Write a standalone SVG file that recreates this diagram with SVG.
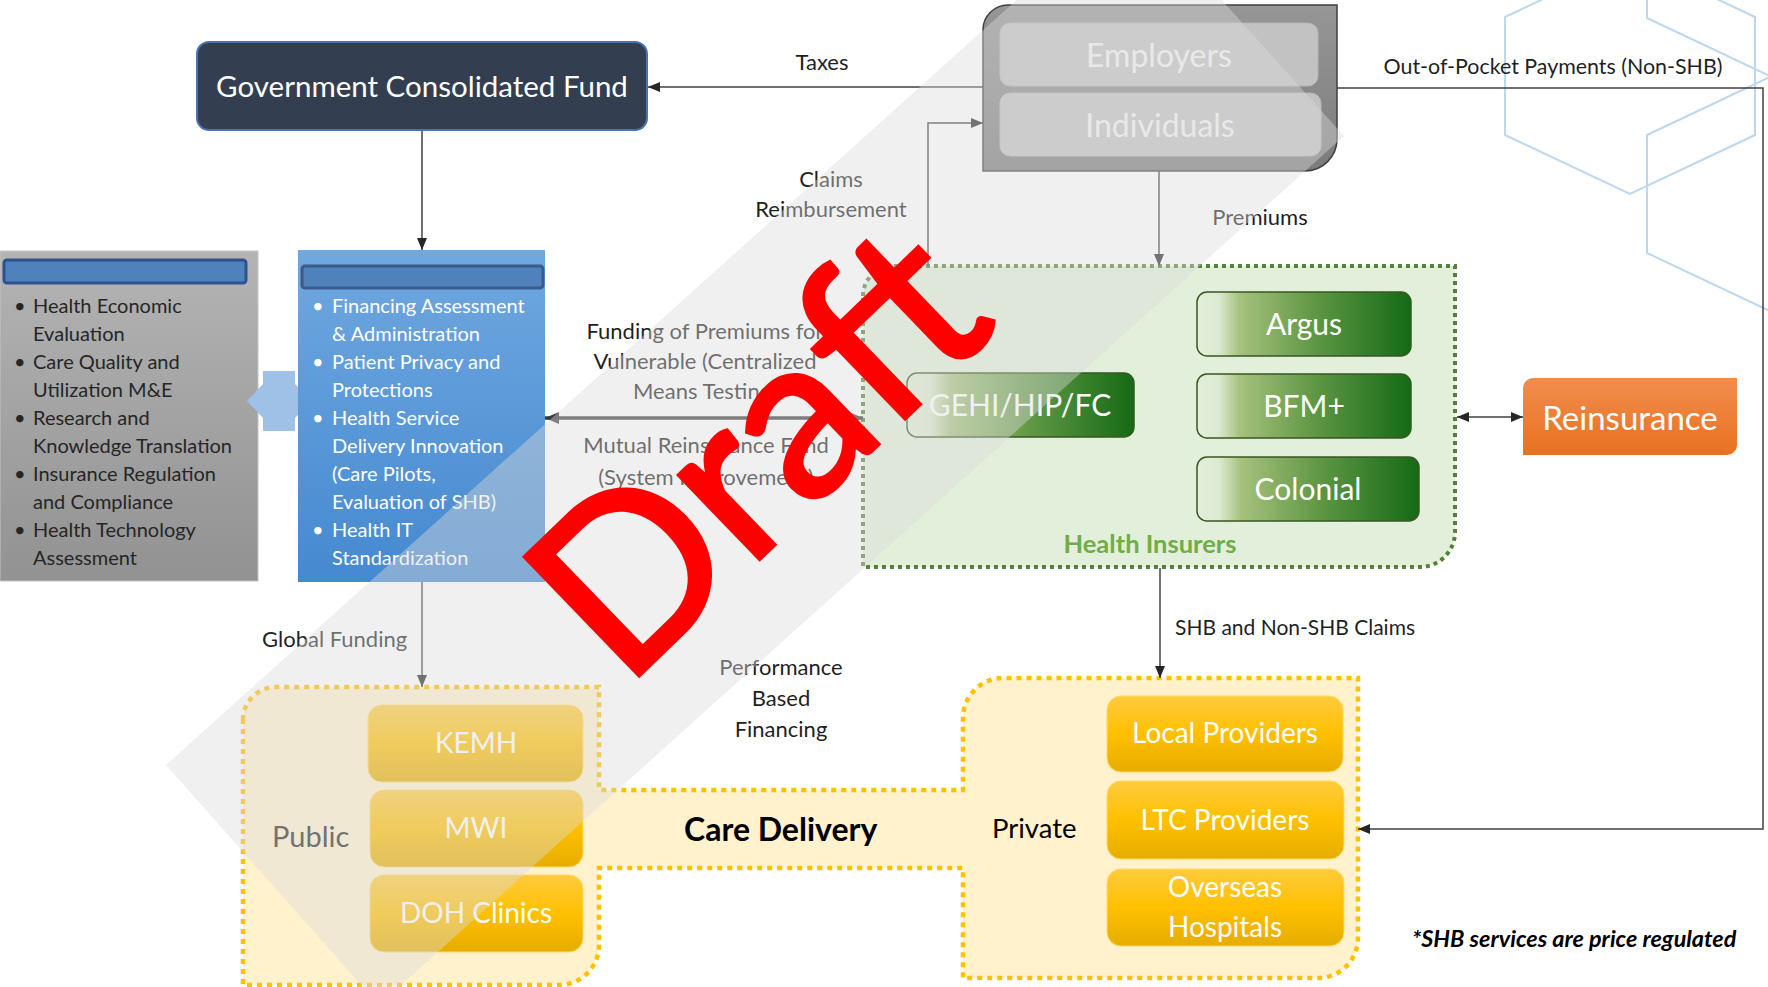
<svg xmlns="http://www.w3.org/2000/svg" width="1768" height="987" viewBox="0 0 1768 987">
<defs>
<style>
.t{font-family:Lato,"Liberation Sans",Arial,sans-serif}
.lbl{font-size:22px;fill:#1f1f1f}
.bul{font-size:20px}
.gb{fill:#262626}
.wb{fill:#ffffff}
.conn{fill:none;stroke:#404040;stroke-width:1.5}
.hex{fill:none;stroke:#bdd7ee;stroke-width:2}
.gbox{fill:url(#gGreen);stroke:#385723;stroke-width:1.5}
.gtx{font-size:30px;fill:#ffffff;text-anchor:middle}
.yb{fill:url(#gGold);stroke:#ffd966;stroke-width:1}
.ytx{font-size:28px;fill:#ffffff;text-anchor:middle}
</style>
<linearGradient id="gBlue" x1="0" y1="0" x2="0" y2="1"><stop offset="0" stop-color="#70a8e0"/><stop offset="1" stop-color="#4589d0"/></linearGradient>
<linearGradient id="gGrey" x1="0" y1="0" x2="0" y2="1"><stop offset="0" stop-color="#b4b4b4"/><stop offset="1" stop-color="#929292"/></linearGradient>
<linearGradient id="gGreen" x1="0" y1="0" x2="1" y2="0"><stop offset="0" stop-color="#e3efd9"/><stop offset="0.1" stop-color="#dcead0"/><stop offset="0.2" stop-color="#a6c17c"/><stop offset="0.55" stop-color="#5f9744"/><stop offset="1" stop-color="#156a15"/></linearGradient>
<linearGradient id="gGold" x1="0" y1="0" x2="0" y2="1"><stop offset="0" stop-color="#ffcb3d"/><stop offset="0.5" stop-color="#ffc000"/><stop offset="1" stop-color="#e6ad00"/></linearGradient>
<linearGradient id="gOrange" x1="0" y1="0" x2="0" y2="1"><stop offset="0" stop-color="#f28d4e"/><stop offset="1" stop-color="#e8711f"/></linearGradient>
<linearGradient id="gEmp" x1="0" y1="0" x2="0" y2="1"><stop offset="0" stop-color="#969696"/><stop offset="1" stop-color="#7c7c7c"/></linearGradient>
<marker id="ah" viewBox="0 0 12 10" refX="12" refY="5" markerWidth="12" markerHeight="10" markerUnits="userSpaceOnUse" orient="auto-start-reverse"><path d="M0,0 L12,5 L0,10 Z" fill="#262626"/></marker>
<marker id="ahb" viewBox="0 0 14 12" refX="14" refY="6" markerWidth="14" markerHeight="12" markerUnits="userSpaceOnUse" orient="auto-start-reverse"><path d="M0,0 L14,6 L0,12 Z" fill="#3a3a3a"/></marker>
</defs>
<rect width="1768" height="987" fill="#ffffff"/>

<g id="decor">
<polygon class="hex" points="1630,-42 1755,17 1755,135 1630,194 1505,135 1505,17"/>
<polygon class="hex" points="1772,-159 1897,-100 1897,18 1772,77 1647,18 1647,-100"/>
<polygon class="hex" points="1772,76 1897,135 1897,253 1772,312 1647,253 1647,135"/>
</g>

<g id="care-delivery">
<path d="M243,720 A33,33 0 0 1 276,687 H599 V790 H963 V718 A40,40 0 0 1 1003,678 H1358 V938 A40,40 0 0 1 1318,978 H963 V868 H599 V945 A40,40 0 0 1 559,985 H243 Z" fill="#fff2cc" stroke="#ffc000" stroke-width="4.5" stroke-dasharray="5 5"/>
<text class="t" x="272" y="847" font-size="29" fill="#262626">Public</text>
<text class="t" x="684" y="841" font-size="32" font-weight="bold" fill="#000000">Care Delivery</text>
<text class="t" x="992" y="838" font-size="27.5" fill="#000000">Private</text>
</g>
<g id="kemh"><rect class="yb" x="368" y="705" width="215" height="77" rx="14"/><text class="t ytx" x="476" y="753">KEMH</text></g>
<g id="mwi"><rect class="yb" x="370" y="790" width="213" height="77" rx="14"/><text class="t ytx" x="476" y="838">MWI</text></g>
<g id="doh"><rect class="yb" x="370" y="875" width="213" height="77" rx="14"/><text class="t ytx" x="476" y="923">DOH Clinics</text></g>
<g id="local"><rect class="yb" x="1107" y="696" width="236" height="76" rx="14"/><text class="t ytx" x="1225" y="743">Local Providers</text></g>
<g id="ltc"><rect class="yb" x="1107" y="781" width="237" height="78" rx="14"/><text class="t ytx" x="1225" y="830">LTC Providers</text></g>
<g id="overseas"><rect class="yb" x="1107" y="869" width="237" height="77" rx="14"/><text class="t ytx" x="1225" y="897">Overseas</text><text class="t ytx" x="1225" y="937">Hospitals</text></g>

<g id="gov-fund">
<rect x="197" y="42" width="450" height="88" rx="12" fill="#333f50" stroke="#4a72b0" stroke-width="2"/>
<text class="t" x="422" y="97" font-size="29.5" fill="#ffffff" text-anchor="middle">Government Consolidated Fund</text>
</g>

<g id="payers">
<path d="M983,30 A25,25 0 0 1 1008,5 H1337 V139 A32,32 0 0 1 1305,171 H983 Z" fill="url(#gEmp)" stroke="#3f3f3f" stroke-width="1.5"/>
<rect x="1000" y="23" width="318" height="63" rx="10" fill="#c2c2c2" stroke="#b5b5b5" stroke-width="1"/>
<rect x="1000" y="93" width="321" height="63" rx="10" fill="#c2c2c2" stroke="#b5b5b5" stroke-width="1"/>
<text class="t" x="1159" y="67" font-size="32" fill="#f2f2f2" text-anchor="middle">Employers</text>
<text class="t" x="1160" y="137" font-size="32" fill="#f2f2f2" text-anchor="middle">Individuals</text>
</g>

<g id="council">
<rect x="0" y="251" width="258" height="330" fill="url(#gGrey)" stroke="#c4c4c4" stroke-width="1"/>
<rect x="4" y="260" width="242" height="23" rx="3" fill="#4f81bd" stroke="#2f528f" stroke-width="3"/>
<g class="t bul gb">
<text x="14" y="313">•</text><text x="33" y="313">Health Economic</text>
<text x="33" y="341">Evaluation</text>
<text x="14" y="369">•</text><text x="33" y="369">Care Quality and</text>
<text x="33" y="397">Utilization M&amp;E</text>
<text x="14" y="425">•</text><text x="33" y="425">Research and</text>
<text x="33" y="453">Knowledge Translation</text>
<text x="14" y="481">•</text><text x="33" y="481">Insurance Regulation</text>
<text x="33" y="509">and Compliance</text>
<text x="14" y="537">•</text><text x="33" y="537">Health Technology</text>
<text x="33" y="565">Assessment</text>
</g>
</g>

<g id="link-arrow"><polygon points="247,401 263,384 263,371 295,371 295,384 312,401 295,418 295,431 263,431 263,418" fill="#9fc1e8"/></g>

<g id="commission">
<rect x="298" y="250" width="247" height="332" fill="url(#gBlue)"/>
<rect x="302" y="266" width="241" height="22" rx="3" fill="#4f81bd" stroke="#385d8a" stroke-width="3"/>
<g class="t bul wb">
<text x="312" y="313">•</text><text x="332" y="313">Financing Assessment</text>
<text x="332" y="341">&amp; Administration</text>
<text x="312" y="369">•</text><text x="332" y="369">Patient Privacy and</text>
<text x="332" y="397">Protections</text>
<text x="312" y="425">•</text><text x="332" y="425">Health Service</text>
<text x="332" y="453">Delivery Innovation</text>
<text x="332" y="481">(Care Pilots,</text>
<text x="332" y="509">Evaluation of SHB)</text>
<text x="312" y="537">•</text><text x="332" y="537">Health IT</text>
<text x="332" y="565">Standardization</text>
</g>
</g>

<g id="insurers">
<path d="M863,296 A30,30 0 0 1 893,266 H1455 V532 A35,35 0 0 1 1420,567 H863 Z" fill="#e2efda" stroke="#548235" stroke-width="4" stroke-dasharray="4 4"/>
<text class="t" x="1150" y="553" font-size="25.5" font-weight="bold" fill="#70ad47" text-anchor="middle">Health Insurers</text>
</g>
<g id="gehi"><rect class="gbox" x="907" y="373" width="227" height="64" rx="10"/><text class="t gtx" x="1020" y="416">GEHI/HIP/FC</text></g>
<g id="argus"><rect class="gbox" x="1197" y="292" width="214" height="64" rx="10"/><text class="t gtx" x="1304" y="335">Argus</text></g>
<g id="bfm"><rect class="gbox" x="1197" y="374" width="214" height="64" rx="10"/><text class="t gtx" x="1304" y="417">BFM+</text></g>
<g id="colonial"><rect class="gbox" x="1197" y="457" width="222" height="64" rx="10"/><text class="t gtx" x="1308" y="500">Colonial</text></g>

<g id="reinsurance">
<path d="M1523,388 A10,10 0 0 1 1533,378 H1737 V445 A10,10 0 0 1 1727,455 H1523 Z" fill="url(#gOrange)"/>
<text class="t" x="1630" y="430" font-size="33" fill="#ffffff" text-anchor="middle">Reinsurance</text>
</g>

<g id="connectors">
<line class="conn" x1="983" y1="87" x2="648" y2="87" marker-end="url(#ah)"/>
<line class="conn" x1="422" y1="131" x2="422" y2="250" marker-end="url(#ah)"/>
<polyline class="conn" points="928,266 928,123 983,123" marker-end="url(#ah)"/>
<line class="conn" x1="1159" y1="171" x2="1159" y2="266" marker-end="url(#ah)"/>
<polyline class="conn" points="1337,88 1763,88 1763,829 1358,829" marker-end="url(#ah)"/>
<line class="conn" x1="1457" y1="417" x2="1523" y2="417" marker-start="url(#ah)" marker-end="url(#ah)"/>
<line class="conn" x1="1160" y1="568" x2="1160" y2="678" marker-end="url(#ah)"/>
<line class="conn" x1="422" y1="582" x2="422" y2="687" marker-end="url(#ah)"/>
<line x1="545" y1="418" x2="863" y2="418" fill="none" stroke="#3a3a3a" stroke-width="3.5" marker-start="url(#ahb)" marker-end="url(#ahb)"/>
</g>

<g id="labels" class="t lbl">
<text x="822" y="70" text-anchor="middle">Taxes</text>
<text x="1553" y="74" text-anchor="middle" font-size="21.4">Out-of-Pocket Payments (Non-SHB)</text>
<text x="831" y="187" text-anchor="middle">Claims</text>
<text x="831" y="217" text-anchor="middle">Reimbursement</text>
<text x="1260" y="225" text-anchor="middle">Premiums</text>
<text x="705" y="339" text-anchor="middle">Funding of Premiums for</text>
<text x="705" y="369" text-anchor="middle">Vulnerable (Centralized</text>
<text x="705" y="399" text-anchor="middle">Means Testing)</text>
<text x="706" y="453" text-anchor="middle">Mutual Reinsurance Fund</text>
<text x="706" y="485" text-anchor="middle">(System Improvement)</text>
<text x="262" y="647">Global Funding</text>
<text x="781" y="675" text-anchor="middle">Performance</text>
<text x="781" y="706" text-anchor="middle">Based</text>
<text x="781" y="737" text-anchor="middle">Financing</text>
<text x="1175" y="635" font-size="21">SHB and Non-SHB Claims</text>
<text x="1412" y="947" font-size="23.4" font-weight="bold" font-style="italic" fill="#000000">*SHB services are price regulated</text>
</g>

<g id="draft-band">
<polygon points="166,765 1130,-102 1344,136 379,1005" fill="#dcdcdc" fill-opacity="0.42"/>
<text class="t" transform="translate(624,690) rotate(-44)" x="0" y="0" font-size="230" fill="#ff0000" stroke="#ff0000" stroke-width="4" font-family="Lato,'Liberation Sans',sans-serif">Draft</text>
</g>
</svg>
